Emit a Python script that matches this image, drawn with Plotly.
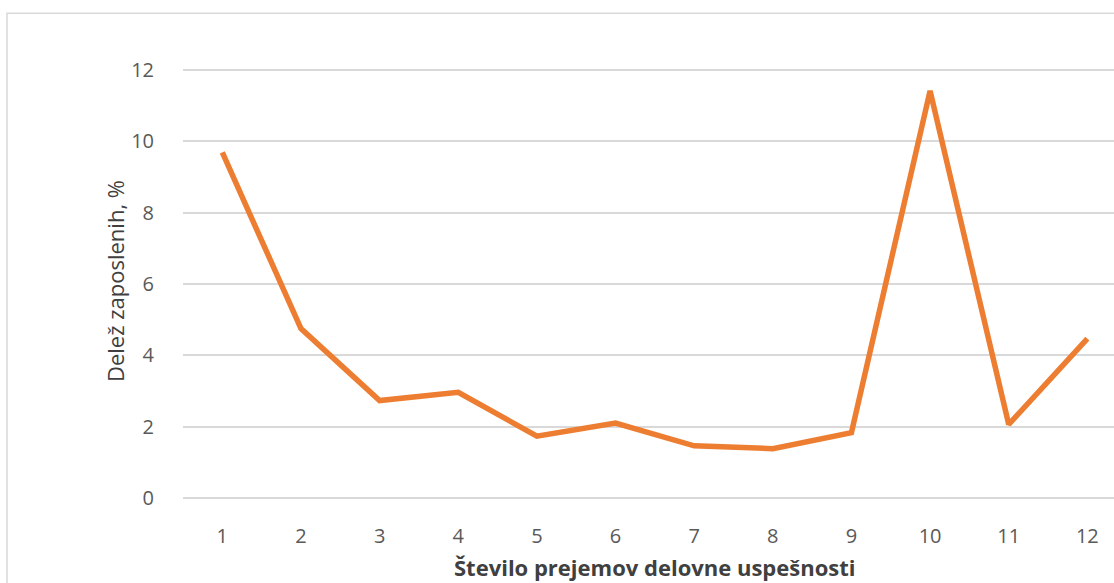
import plotly.graph_objects as go

categories = [str(i) for i in range(1, 13)]
share = [9.69, 4.75, 2.73, 2.96, 1.73, 2.10, 1.46, 1.38, 1.83, 11.42, 2.06, 4.47]
y_ticks = [0, 2, 4, 6, 8, 10, 12]

W, H = 1114, 583
L = 183
y_top_px, y_zero_px = 70.0, 498.0          # pixel rows of 12 and 0
px_per_unit = (y_zero_px - y_top_px) / 12
pad_u = 0.06                                  # range padding (units) so the 0 grid shows
T = y_top_px - pad_u * px_per_unit
B = H - (y_zero_px + pad_u * px_per_unit)
plot_w = W - L
plot_h = H - T - B
cat_w = 78.64  # px per category

fig = go.Figure()
fig.add_trace(go.Scatter(
    x=list(range(1, 13)), y=share, mode="lines",
    line=dict(color="#ED7D31", width=5.5, shape="linear"),
    hoverinfo="skip", showlegend=False,
))

xr_max = 0.5 + plot_w / cat_w

fig.update_layout(
    width=W, height=H,
    margin=dict(l=L, r=0, t=T, b=B, pad=0),
    paper_bgcolor="white", plot_bgcolor="white",
    font=dict(family="Open Sans, DejaVu Sans, sans-serif", color="#595959", size=20),
    xaxis=dict(
        range=[0.5, xr_max], tickmode="array",
        tickvals=list(range(1, 13)), ticktext=categories,
        showgrid=False, zeroline=False, showline=False,
        ticks="outside", ticklen=18, tickcolor="rgba(0,0,0,0)",
        tickfont=dict(size=20, color="#595959"),
    ),
    yaxis=dict(
        range=[-pad_u, 12 + pad_u], tickmode="array", tickvals=y_ticks,
        ticktext=[str(v) for v in y_ticks],
        showgrid=True, gridcolor="#D9D9D9", gridwidth=1.5,
        zeroline=False, showline=False,
        ticks="outside", ticklen=24, tickcolor="rgba(0,0,0,0)",
        tickfont=dict(size=20, color="#595959"),
    ),
)

def px_to_paper_x(px):
    return (px - L) / plot_w

def px_to_paper_y(py):
    return (H - B - py) / plot_h

# chart border (cut off at right and bottom)
fig.add_shape(type="rect", xref="paper", yref="paper",
              x0=px_to_paper_x(7), x1=px_to_paper_x(W + 20),
              y0=px_to_paper_y(H + 20), y1=px_to_paper_y(13),
              line=dict(color="#D9D9D9", width=1.5), layer="below")

# axis titles
fig.add_annotation(xref="paper", yref="paper",
                   x=px_to_paper_x(L + 6 * cat_w), y=px_to_paper_y(567),
                   text="<b>Število prejemov delovne uspešnosti</b>",
                   showarrow=False, xanchor="center", yanchor="middle",
                   font=dict(size=22, color="#404040"))
fig.add_annotation(xref="paper", yref="paper",
                   x=px_to_paper_x(115), y=px_to_paper_y(281),
                   text="Delež zaposlenih, %", textangle=-90,
                   showarrow=False, xanchor="center", yanchor="middle",
                   font=dict(size=22, color="#404040"))

fig.write_html("out.html", config={"displayModeBar": False},
               post_script="document.body.style.margin='0px';")
